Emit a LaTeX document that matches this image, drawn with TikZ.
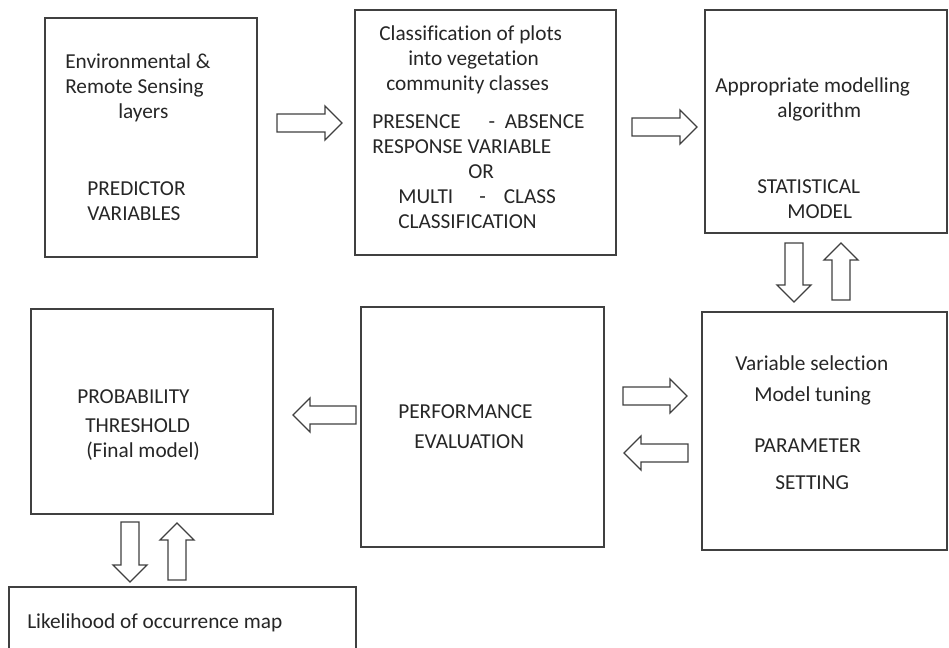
\documentclass[tikz,border=0pt]{standalone}
\usepackage{fontspec}
\setmainfont{Carlito}[Ligatures=NoCommon]
\usetikzlibrary{calc}
\tikzstyle{box} = [rectangle, draw=black!75, line width=1.2pt]
\tikzstyle{txt} = [anchor=west, align=left, inner sep=0pt, text=black!85, font=\fontsize{15.15}{17.8}\selectfont]
\tikzstyle{blk} = [draw=black!75, fill=white, line width=0.9pt, line join=miter,
  to path={let \p1=($(\tikztotarget)-(\tikztostart)$), \n1={atan2(\y1,\x1)}, \n2={veclen(\x1,\y1)} in
    ++({\n1+90}:0.225cm) -- ++(\n1:{\n2-0.425cm}) -- ++({\n1+90}:0.2cm) -- (\tikztotarget)
    -- ++({\n1-135}:0.601cm) -- ++({\n1+90}:0.2cm) -- ++({\n1+180}:{\n2-0.425cm}) -- cycle}]
\begin{document}
\begin{tikzpicture}[x=0.025cm, y=-0.025cm]
          \path[use as bounding box] (0,0) rectangle (949,647);
          \clip (0,0) rectangle (949,647);

          \node[box, minimum width=5.3cm, minimum height=5.975cm] (env) at (151,137.5) {};
          \node[box, minimum width=6.525cm, minimum height=6.125cm] (cls) at (485.5,132.5) {};
          \node[box, minimum width=6.05cm, minimum height=5.575cm] (stat) at (826,121.5) {};
          \node[box, minimum width=6.125cm, minimum height=5.95cm] (param) at (824.5,431) {};
          \node[box, minimum width=6.075cm, minimum height=6cm] (perf) at (482.5,427) {};
          \node[box, minimum width=6.05cm, minimum height=5.125cm] (prob) at (152,411.5) {};
          \node[box, minimum width=8.675cm, minimum height=2.6cm] (lik) at (182.5,639) {};

          \node[txt] (envtop) at (65,88) {Environmental \&\\Remote Sensing\\\hspace*{1.325cm}layers};
          \node[txt] (envbot) at (87,201) {PREDICTOR\\VARIABLES};
          \node[txt] (clstop) at (379,60) {Classification of plots\\\hspace*{0.725cm}into vegetation\\\hspace*{0.175cm}community classes};
          \node[txt] (clsbot) at (372,172) {PRESENCE\hspace{0.7cm}-\ \ ABSENCE\\RESPONSE VARIABLE\\\hspace*{2.4cm}OR\\\hspace*{0.65cm}MULTI\hspace{0.65cm}-\hspace{0.45cm}CLASS\\\hspace*{0.65cm}CLASSIFICATION};
          \node[txt] (stattop) at (715,99) {Appropriate modelling\\\hspace*{1.55cm}algorithm};
          \node[txt] (statbot) at (757,199) {STATISTICAL\\\hspace*{0.75cm}MODEL};
          \node[txt] (partop) at (735,380) {Variable selection\\[0.15cm]\hspace*{0.475cm}Model tuning};
          \node[txt] (parbot) at (754,464) {PARAMETER\\[0.3cm]\hspace*{0.525cm}SETTING};
          \node[txt] (perftxt) at (398,427) {PERFORMANCE\\[0.125cm]\hspace*{0.4cm}EVALUATION};
          \node[txt] (probtxt) at (77,425) {PROBABILITY\\[0.1cm]\hspace*{0.2cm}THRESHOLD\\\hspace*{0.225cm}(Final model)};
          \node[txt] (liktxt) at (27,623) {Likelihood of occurrence map};

          \coordinate (a12s) at (277,123);  \coordinate (a12e) at (342,123);
          \coordinate (a23s) at (632,127);  \coordinate (a23e) at (697,127);
          \coordinate (a3ps) at (794,243);  \coordinate (a3pe) at (794,302);
          \coordinate (ap3s) at (841,300);  \coordinate (ap3e) at (841,243);
          \coordinate (aeps) at (623,396);  \coordinate (aepe) at (687,396);
          \coordinate (apes) at (688,453);  \coordinate (apee) at (624,453);
          \coordinate (aers) at (356,415);  \coordinate (aere) at (293,415);
          \coordinate (arls) at (130,522);  \coordinate (arle) at (130,582);
          \coordinate (alrs) at (177,580);  \coordinate (alre) at (177,523);

          \draw[blk] (a12s) to (a12e);
          \draw[blk] (a23s) to (a23e);
          \draw[blk] (a3ps) to (a3pe);
          \draw[blk] (ap3s) to (ap3e);
          \draw[blk] (aeps) to (aepe);
          \draw[blk] (apes) to (apee);
          \draw[blk] (aers) to (aere);
          \draw[blk] (arls) to (arle);
          \draw[blk] (alrs) to (alre);
        \end{tikzpicture}
\end{document}
